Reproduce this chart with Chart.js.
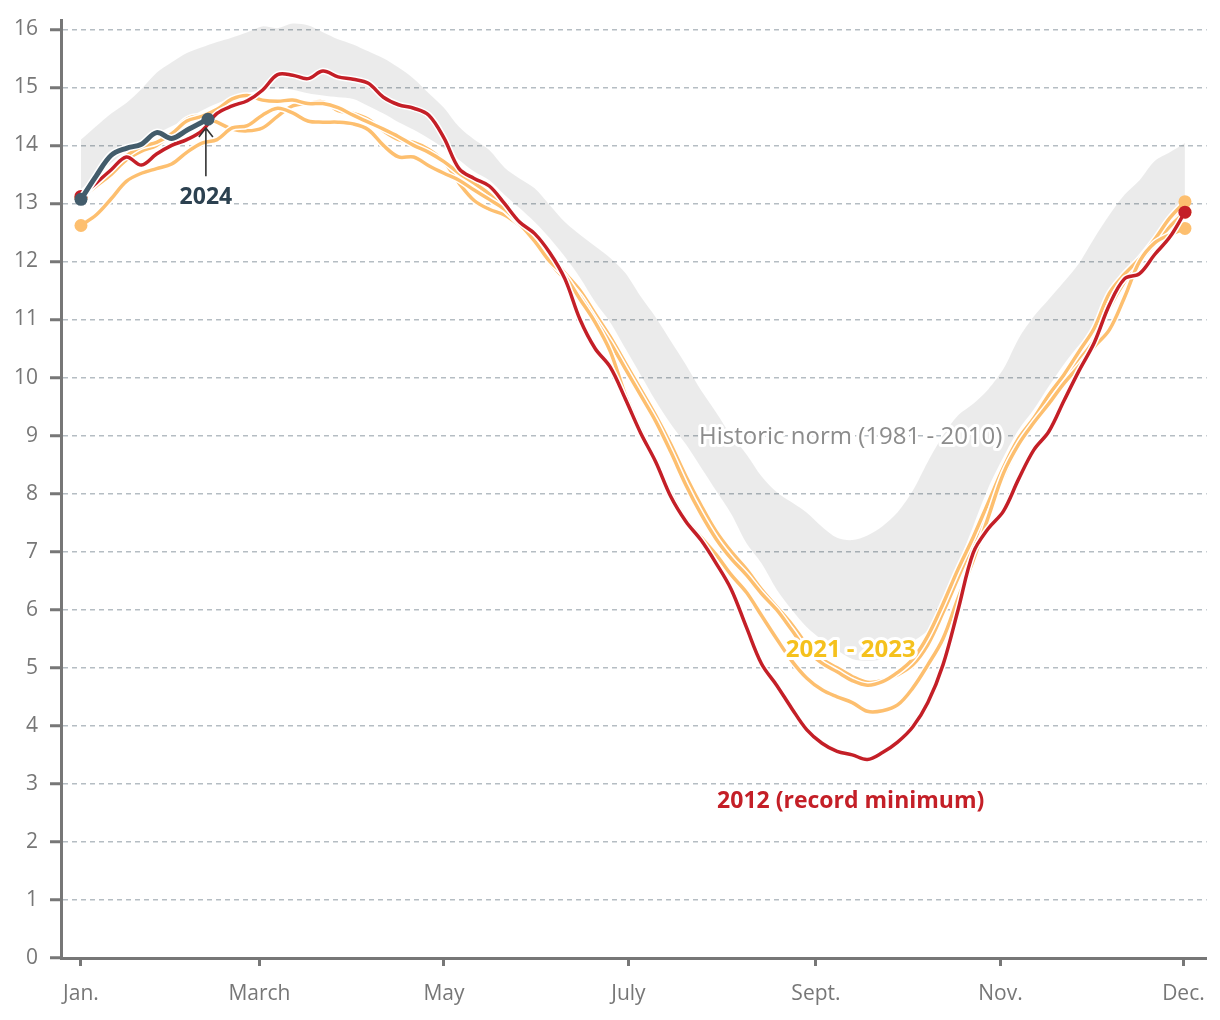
<!DOCTYPE html>
<html>
<head>
<meta charset="utf-8">
<script src="https://cdn.jsdelivr.net/npm/chart.js@4.4.1/dist/chart.umd.min.js"></script>
<style>
  html, body { margin: 0; padding: 0; background: #fff; }
  #wrap { width: 1220px; height: 1020px; }
</style>
</head>
<body>
<div id="wrap"><canvas id="chart"></canvas></div>
<script>
// day of year for every sample (every 5 days)
const days = [1, 6, 11, 16, 21, 26, 31, 36, 41, 46, 51, 56, 61, 66, 71, 76, 81, 86, 91, 96,
  101, 106, 111, 116, 121, 126, 131, 136, 141, 146, 151, 156, 161, 166, 171, 176, 181, 186, 191, 196,
  201, 206, 211, 216, 221, 226, 231, 236, 241, 246, 251, 256, 261, 266, 271, 276, 281, 286, 291, 296,
  301, 306, 311, 316, 321, 326, 331, 336, 341, 346, 351, 356, 361, 366];

// historic norm band (1981 - 2010), million sq km
const normHigh = [14.1, 14.33, 14.55, 14.73, 14.97, 15.25, 15.43, 15.59, 15.69, 15.78,
  15.86, 15.95, 16.05, 16.02, 16.1, 16.07, 15.95, 15.83, 15.74, 15.62,
  15.5, 15.34, 15.15, 14.9, 14.65, 14.32, 14.1, 13.92, 13.62, 13.43,
  13.26, 12.97, 12.68, 12.46, 12.26, 12.06, 11.8, 11.4, 11.04, 10.63,
  10.22, 9.78, 9.4, 9.0, 8.68, 8.3, 8.03, 7.85, 7.67, 7.43,
  7.24, 7.2, 7.28, 7.44, 7.68, 8.05, 8.55, 9.0, 9.35, 9.55,
  9.8, 10.15, 10.67, 11.05, 11.35, 11.65, 11.97, 12.4, 12.8, 13.15,
  13.4, 13.73, 13.88, 14.04];
const normLow = [13.25, 13.45, 13.7, 13.9, 14.05, 14.2, 14.33, 14.45, 14.6, 14.72,
  14.82, 14.9, 14.95, 14.98, 14.96, 14.9, 14.86, 14.83, 14.8, 14.68,
  14.55, 14.4, 14.27, 14.12, 13.95, 13.75, 13.55, 13.4, 13.15, 12.92,
  12.68, 12.4, 12.08, 11.72, 11.3, 10.95, 10.5, 10.05, 9.6, 9.2,
  8.85, 8.45, 8.05, 7.65, 7.15, 6.8, 6.35, 6.0, 5.7, 5.48,
  5.3, 5.15, 5.12, 5.15, 5.3, 5.45, 5.65, 6.15, 6.77, 7.44,
  8.1, 8.63, 9.1, 9.45, 9.85, 10.23, 10.56, 10.83, 11.3, 11.65,
  12.05, 12.43, 12.73, 12.8];

const ext2012 = [13.12, 13.35, 13.58, 13.8, 13.66, 13.85, 14.0, 14.1, 14.25, 14.55,
  14.68, 14.77, 14.95, 15.22, 15.21, 15.15, 15.28, 15.18, 15.14, 15.07,
  14.83, 14.7, 14.64, 14.52, 14.13, 13.6, 13.43, 13.3, 13.0, 12.68,
  12.48, 12.15, 11.7, 11.0, 10.5, 10.18, 9.63, 9.05, 8.55, 7.95,
  7.52, 7.2, 6.8, 6.35, 5.7, 5.07, 4.7, 4.3, 3.93, 3.7,
  3.56, 3.5, 3.42, 3.54, 3.72, 3.98, 4.4, 5.05, 6.0, 6.98,
  7.4, 7.7, 8.25, 8.75, 9.07, 9.6, 10.12, 10.6, 11.25, 11.7,
  11.79, 12.12, 12.42, 12.85];

const ext2021 = [13.1, 13.3, 13.5, 13.75, 13.9, 14.0, 14.2, 14.45, 14.5, 14.4,
  14.28, 14.25, 14.3, 14.5, 14.68, 14.72, 14.75, 14.6, 14.55, 14.45,
  14.25, 14.1, 14.05, 13.93, 13.72, 13.35, 13.05, 12.9, 12.8, 12.62,
  12.4, 12.1, 11.8, 11.5, 11.1, 10.7, 10.25, 9.8, 9.35, 8.85,
  8.3, 7.8, 7.35, 7.0, 6.7, 6.35, 6.05, 5.75, 5.4, 5.15,
  5.0, 4.85, 4.75, 4.78, 4.88, 5.05, 5.4, 5.95, 6.55, 7.15,
  7.7, 8.3, 8.85, 9.25, 9.6, 10.0, 10.3, 10.65, 11.2, 11.65,
  12.0, 12.3, 12.6, 12.85];

const ext2022 = [13.1, 13.35, 13.6, 13.82, 13.98, 14.05, 14.2, 14.42, 14.5, 14.62,
  14.8, 14.86, 14.78, 14.76, 14.78, 14.72, 14.72, 14.65, 14.52, 14.4,
  14.28, 14.15, 14.0, 13.88, 13.72, 13.52, 13.35, 13.16, 12.9, 12.65,
  12.4, 11.98, 11.7, 11.4, 11.0, 10.6, 10.15, 9.7, 9.25, 8.72,
  8.15, 7.65, 7.22, 6.88, 6.6, 6.28, 6.0, 5.65, 5.3, 5.08,
  4.93, 4.78, 4.7, 4.76, 4.92, 5.15, 5.55, 6.1, 6.7, 7.25,
  7.85, 8.45, 8.95, 9.3, 9.7, 10.05, 10.45, 10.85, 11.45, 11.78,
  12.05, 12.38, 12.75, 13.03];

const ext2023 = [12.62, 12.8, 13.08, 13.38, 13.52, 13.6, 13.68, 13.88, 14.04, 14.1,
  14.3, 14.34, 14.52, 14.64, 14.56, 14.42, 14.4, 14.4, 14.37, 14.27,
  14.0, 13.8, 13.8, 13.65, 13.52, 13.4, 13.23, 13.07, 12.9, 12.65,
  12.35, 12.0, 11.75, 11.35, 10.95, 10.45, 9.7, 9.1, 8.55, 8.0,
  7.55, 7.25, 6.95, 6.6, 6.3, 5.9, 5.5, 5.12, 4.82, 4.62,
  4.5, 4.4, 4.25, 4.26, 4.36, 4.65, 5.05, 5.5, 6.2, 6.85,
  7.6, 8.35, 8.85, 9.22, 9.55, 9.9, 10.2, 10.53, 10.82, 11.38,
  12.0, 12.32, 12.46, 12.57];

const days2024 = [1, 6, 11, 16, 21, 26, 31, 36, 41, 43];
const ext2024 = [13.07, 13.47, 13.83, 13.95, 14.02, 14.22, 14.12, 14.26, 14.4, 14.45];

const monthTicks = [1, 60, 121, 182, 244, 305, 365.5];
const monthLabels = ['Jan.', 'March', 'May', 'July', 'Sept.', 'Nov.', 'Dec.'];
const yTicks = [0, 1, 2, 3, 4, 5, 6, 7, 8, 9, 10, 11, 12, 13, 14, 15, 16];

const FONT = '"Open Sans", "Noto Sans", sans-serif';
const ORANGE = '#fdbf6f';
const RED = '#c41f27';
const SLATE = '#435c6b';

function pts(xs, ys) {
  return xs.map((d, i) => ({ x: d, y: ys[i] }));
}

function endDot(r) {
  return ctx => (ctx.dataIndex === 0 || ctx.dataIndex === ctx.dataset.data.length - 1) ? r : 0;
}

// each line gets a white halo drawn just below it
function lineWithHalo(label, xs, ys, color, width, order, dot) {
  return [
    {
      label: label, data: pts(xs, ys), borderColor: color, backgroundColor: color,
      borderWidth: width, pointRadius: endDot(dot), pointBorderWidth: 0,
      pointHoverRadius: 0, tension: 0.35, fill: false, order: order
    },
    {
      label: label + ' halo', data: pts(xs, ys), borderColor: '#fff',
      borderWidth: width + 3, pointRadius: 0, tension: 0.35, fill: false, order: order + 1
    }
  ];
}

// text labels and the 2024 arrow
const notes = [
  { text: 'Historic norm (1981 - 2010)', day: 255.5, value: 8.97, font: '24px ' + FONT, color: '#8c8c8c' },
  { text: '2021 - 2023', day: 255.5, value: 5.3, font: 'bold 24px ' + FONT, color: '#f5c11d' },
  { text: '2012 (record minimum)', day: 255.5, value: 2.69, font: 'bold 23px ' + FONT, color: RED },
  { text: '2024', day: 42.3, value: 13.1, font: 'bold 23px ' + FONT, color: '#2c4150' }
];

const notePlugin = {
  id: 'notes',
  afterDatasetsDraw(chart) {
    const { ctx, scales: { x, y } } = chart;
    ctx.save();
    ctx.textAlign = 'center';
    ctx.textBaseline = 'middle';
    ctx.lineJoin = 'round';
    notes.forEach(n => {
      const px = x.getPixelForValue(n.day);
      const py = y.getPixelForValue(n.value);
      ctx.font = n.font;
      ctx.strokeStyle = '#fff';
      ctx.lineWidth = 6;
      ctx.strokeText(n.text, px, py);
      ctx.fillStyle = n.color;
      ctx.fillText(n.text, px, py);
    });

    // arrow pointing at the latest 2024 value
    const ax = x.getPixelForValue(42.3);
    const y0 = y.getPixelForValue(13.47);
    const y1 = y.getPixelForValue(14.3);
    ctx.strokeStyle = '#333';
    ctx.lineWidth = 1.6;
    ctx.beginPath();
    ctx.moveTo(ax, y0);
    ctx.lineTo(ax, y1);
    ctx.moveTo(ax - 7, y1 + 9);
    ctx.lineTo(ax, y1);
    ctx.lineTo(ax + 7, y1 + 9);
    ctx.stroke();
    ctx.restore();
  }
};

const datasets = [
  { label: 'norm low', data: pts(days, normLow), borderWidth: 0, pointRadius: 0, tension: 0.3, fill: false, order: 21 },
  { label: 'norm high', data: pts(days, normHigh), borderWidth: 0, pointRadius: 0, tension: 0.3,
    fill: '-1', backgroundColor: 'rgba(0,0,0,0.078)', order: 20 },
  ...lineWithHalo('2021', days, ext2021, ORANGE, 3.5, 10, 6.5),
  ...lineWithHalo('2022', days, ext2022, ORANGE, 3.5, 8, 6.5),
  ...lineWithHalo('2023', days, ext2023, ORANGE, 3.5, 6, 6.5),
  ...lineWithHalo('2012', days, ext2012, RED, 3.5, 4, 6.5),
  ...lineWithHalo('2024', days2024, ext2024, SLATE, 5, 0, 6.5)
];

new Chart(document.getElementById('chart'), {
  type: 'line',
  data: { datasets: datasets },
  options: {
    responsive: true,
    maintainAspectRatio: false,
    animation: false,
    layout: { padding: { top: 20, right: 13, bottom: 0, left: 0 } },
    plugins: { legend: { display: false }, tooltip: { enabled: false } },
    scales: {
      x: {
        type: 'linear',
        min: -5.6,
        max: 373.2,
        afterBuildTicks: s => { s.ticks = monthTicks.map(v => ({ value: v })); },
        afterFit: s => { s.height = 62; },
        ticks: {
          autoSkip: false, maxRotation: 0, padding: 15,
          color: '#777', font: { family: FONT, size: 21 },
          callback: (v, i) => monthLabels[i]
        },
        grid: { drawOnChartArea: false, drawTicks: true, tickLength: 8, tickWidth: 3, tickColor: '#777' },
        border: { display: true, color: '#777', width: 3 }
      },
      y: {
        min: 0,
        max: 16.16,
        afterBuildTicks: s => { s.ticks = yTicks.map(v => ({ value: v })); },
        afterFit: s => { s.width = 61; s.paddingTop = 0; s.paddingBottom = 0; },
        ticks: { padding: 12, color: '#777', font: { family: FONT, size: 21 } },
        grid: {
          color: '#b5bdc3', lineWidth: 1.5, drawTicks: true, tickLength: 11,
          tickWidth: 3, tickColor: '#777', tickBorderDash: []
        },
        border: { display: true, color: '#777', width: 3, dash: [5, 4] }
      }
    }
  },
  plugins: [notePlugin]
});
</script>
</body>
</html>
